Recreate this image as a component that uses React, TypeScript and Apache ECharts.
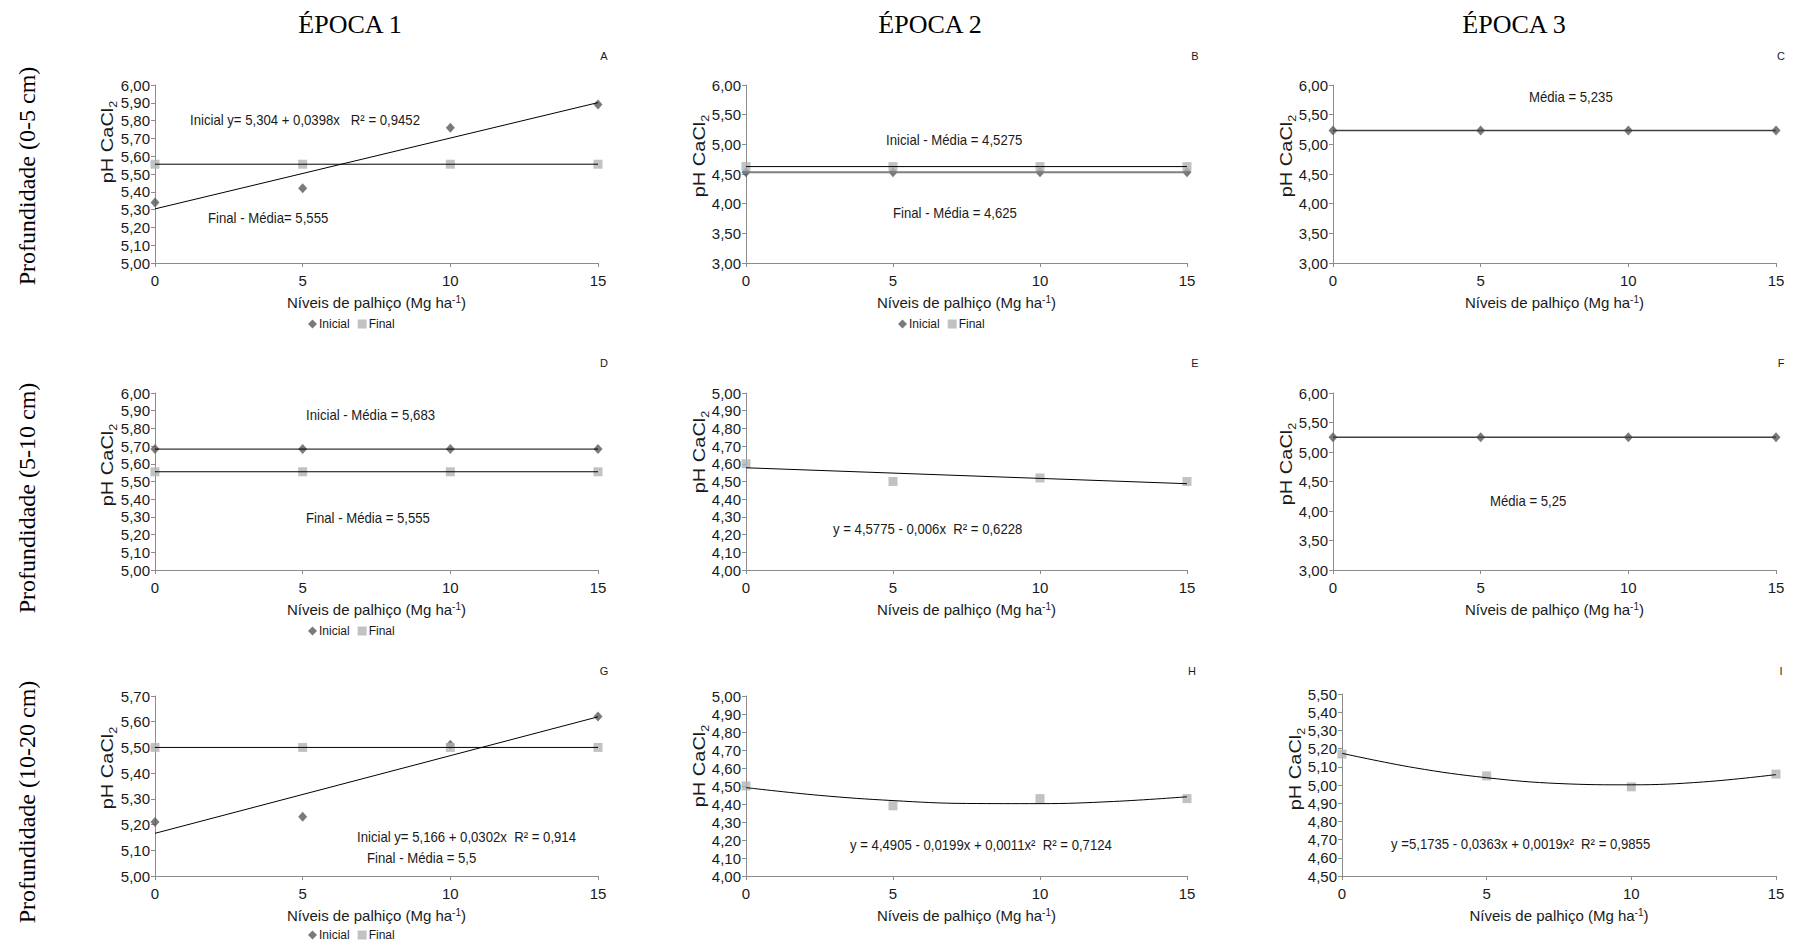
import React, { useEffect, useRef } from "react";
import * as echarts from "echarts";

// ---------- DATA ----------
const xLevels = [0, 5, 10, 15];
const lineX = [0, 15];
const curveX = [0, 2.5, 5, 7.5, 10, 12.5, 15];

// A (Época 1, 0-5 cm)
const aInicial = [5.34, 5.42, 5.76, 5.89];
const aFinal = [5.555, 5.555, 5.555, 5.555];
const aTrendInicial = [5.304, 5.901];
const aMeanFinal = [5.555, 5.555];
// B (Época 2, 0-5 cm)
const bInicial = [4.5275, 4.5275, 4.5275, 4.5275];
const bFinal = [4.625, 4.625, 4.625, 4.625];
const bMeanInicial = [4.5275, 4.5275];
const bMeanFinal = [4.625, 4.625];
// C (Época 3, 0-5 cm)
const cInicial = [5.235, 5.235, 5.235, 5.235];
const cMean = [5.235, 5.235];
// D (Época 1, 5-10 cm)
const dInicial = [5.683, 5.683, 5.683, 5.683];
const dFinal = [5.555, 5.555, 5.555, 5.555];
const dMeanInicial = [5.683, 5.683];
const dMeanFinal = [5.555, 5.555];
// E (Época 2, 5-10 cm)
const eFinal = [4.6, 4.5, 4.52, 4.5];
const eTrend = [4.5775, 4.4875];
// F (Época 3, 5-10 cm)
const fInicial = [5.25, 5.25, 5.25, 5.25];
const fMean = [5.25, 5.25];
// G (Época 1, 10-20 cm)
const gInicial = [5.21, 5.23, 5.51, 5.62];
const gFinal = [5.5, 5.5, 5.5, 5.5];
const gTrendInicial = [5.166, 5.619];
const gMeanFinal = [5.5, 5.5];
// H (Época 2, 10-20 cm)
const hFinal = [4.5, 4.39, 4.43, 4.43];
const hTrend = [4.491, 4.448, 4.419, 4.403, 4.402, 4.414, 4.44];
// I (Época 3, 10-20 cm)
const iFinal = [5.17, 5.05, 4.99, 5.06];
const iTrend = [5.174, 5.095, 5.04, 5.008, 5.001, 5.017, 5.057];

// y-axis ranges [min, max, interval]
const yRanges = [
  [5, 6, 0.1], [3, 6, 0.5], [3, 6, 0.5],
  [5, 6, 0.1], [4, 5, 0.1], [3, 6, 0.5],
  [5, 5.7, 0.1], [4, 5, 0.1], [4.5, 5.5, 0.1],
];
const xTicks = [0, 15, 5];

const colTitles = ["ÉPOCA 1", "ÉPOCA 2", "ÉPOCA 3"];
const rowTitles = ["Profundidade (0-5 cm)", "Profundidade (5-10 cm)", "Profundidade (10-20 cm)"];
const panelLetters = ["A", "B", "C", "D", "E", "F", "G", "H", "I"];

// ---------- LAYOUT ----------
const grids = [
  { left: 155, top: 85, width: 443, height: 178 },
  { left: 746, top: 85, width: 441, height: 178 },
  { left: 1333, top: 85, width: 443, height: 178 },
  { left: 155, top: 393, width: 443, height: 177 },
  { left: 746, top: 393, width: 441, height: 177 },
  { left: 1333, top: 393, width: 443, height: 177 },
  { left: 155, top: 696, width: 443, height: 180 },
  { left: 746, top: 696, width: 441, height: 180 },
  { left: 1342, top: 694, width: 434, height: 182 },
];
const yNamePos = [
  [108, 142], [700, 156], [1287, 156],
  [108, 465], [700, 452], [1287, 464],
  [108, 768], [700, 766], [1296, 769],
];

const SANS = '"Liberation Sans", Arial, sans-serif';
const SERIF = '"Liberation Serif", "Times New Roman", serif';
const DIAMOND = "#595959";
const SQUARE = "#b3b3b3";

const pts = (xs: number[], ys: number[]) => xs.map((x, i) => [x, ys[i]]);

function markers(name: string, g: number, ys: number[]) {
  const ini = name === "Inicial";
  return {
    type: "scatter", name, xAxisIndex: g, yAxisIndex: g,
    data: pts(xLevels, ys),
    symbol: ini ? "diamond" : "rect",
    symbolSize: ini ? [9, 10] : [9, 9],
    itemStyle: { color: ini ? DIAMOND : SQUARE },
    z: ini ? 2 : 3, silent: true,
  };
}
function trend(id: string, g: number, xs: number[], ys: number[], color = "#000", width = 1, smooth = false) {
  return {
    type: "line", name: id, xAxisIndex: g, yAxisIndex: g,
    data: pts(xs, ys), showSymbol: false, symbol: "none", smooth: smooth ? 0.4 : false,
    lineStyle: { color, width }, z: 4, silent: true,
  };
}

function txt(text: string, x: number, y: number) {
  return {
    type: "text", x, y, scaleX: 0.94, silent: true,
    style: { text, font: `14px ${SANS}`, fill: "#1a1a1a", align: "left", verticalAlign: "middle" },
  };
}

function buildOption() {
  const fmt = (v: number) => v.toFixed(2).replace(".", ",");
  const xAxis = grids.map((_, i) => ({
    type: "value", gridIndex: i, min: xTicks[0], max: xTicks[1], interval: xTicks[2],
    axisLine: { show: true, lineStyle: { color: "#8c8c8c", width: 1 } },
    axisTick: { show: true, length: 4, lineStyle: { color: "#8c8c8c" } },
    splitLine: { show: false },
    axisLabel: { color: "#1a1a1a", fontSize: 15, fontFamily: SANS, margin: 10 },
    name: "Níveis de palhiço (Mg ha{sup|-1})",
    nameLocation: "middle", nameGap: 31,
    nameTextStyle: {
      color: "#1a1a1a", fontSize: 15, fontFamily: SANS,
      rich: { sup: { fontSize: 10, fontFamily: SANS, color: "#1a1a1a", verticalAlign: "top", lineHeight: 17 } },
    },
  }));
  const yAxis = grids.map((_, i) => ({
    type: "value", gridIndex: i, min: yRanges[i][0], max: yRanges[i][1], interval: yRanges[i][2],
    axisLine: { show: true, lineStyle: { color: "#8c8c8c", width: 1 } },
    axisTick: { show: true, length: 4, lineStyle: { color: "#8c8c8c" } },
    splitLine: { show: false },
    axisLabel: { color: "#1a1a1a", fontSize: 15, fontFamily: SANS, margin: 5, formatter: fmt },
  }));

  const series: any[] = [
    // A
    markers("Inicial", 0, aInicial), markers("Final", 0, aFinal),
    trend("tA1", 0, lineX, aTrendInicial), trend("tA2", 0, lineX, aMeanFinal),
    // B
    markers("Inicial", 1, bInicial), markers("Final", 1, bFinal),
    trend("tB1", 1, lineX, bMeanInicial, "#7f7f7f", 2), trend("tB2", 1, lineX, bMeanFinal),
    // C
    markers("Inicial", 2, cInicial), trend("tC1", 2, lineX, cMean, "#404040", 1.5),
    // D
    markers("Inicial", 3, dInicial), markers("Final", 3, dFinal),
    trend("tD1", 3, lineX, dMeanInicial), trend("tD2", 3, lineX, dMeanFinal),
    // E
    markers("Final", 4, eFinal), trend("tE1", 4, lineX, eTrend),
    // F
    markers("Inicial", 5, fInicial), trend("tF1", 5, lineX, fMean, "#404040", 1.5),
    // G
    markers("Inicial", 6, gInicial), markers("Final", 6, gFinal),
    trend("tG1", 6, lineX, gTrendInicial), trend("tG2", 6, lineX, gMeanFinal),
    // H
    markers("Final", 7, hFinal), trend("tH1", 7, curveX, hTrend, "#000", 1, true),
    // I
    markers("Final", 8, iFinal), trend("tI1", 8, curveX, iTrend, "#000", 1, true),
  ];

  const legendBase = (left: number, top: number) => ({
    left, top, orient: "horizontal", itemWidth: 9, itemHeight: 9, itemGap: 8,
    selectedMode: false, padding: 2,
    textStyle: { fontSize: 12, fontFamily: SANS, color: "#1a1a1a", padding: [0, 0, 0, -3] },
    data: [{ name: "Inicial", icon: "diamond" }, { name: "Final", icon: "rect" }],
  });
  const legend = [legendBase(306, 316), legendBase(896, 316), legendBase(306, 623), legendBase(306, 927)];

  const colX = [350, 930, 1514];
  const rowY = [176, 498, 802];
  const letterPos = [
    [604, 56], [1195, 56], [1781, 56],
    [604, 363], [1195, 363], [1781, 363],
    [604, 671], [1192, 671], [1781, 671],
  ];

  const graphic: any[] = [
    ...colTitles.map((t, i) => ({
      type: "text", x: colX[i], y: 24, silent: true,
      style: { text: t, font: `26px ${SERIF}`, fill: "#000", align: "center", verticalAlign: "middle" },
    })),
    ...rowTitles.map((t, i) => ({
      type: "text", x: 27, y: rowY[i], rotation: Math.PI / 2, silent: true,
      style: { text: t, font: `24px ${SERIF}`, fill: "#000", align: "center", verticalAlign: "middle" },
    })),
    ...panelLetters.map((t, i) => ({
      type: "text", x: letterPos[i][0], y: letterPos[i][1], silent: true,
      style: { text: t, font: `11px ${SANS}`, fill: "#1a1a1a", align: "center", verticalAlign: "middle" },
    })),
    ...yNamePos.map((p) => ({
      type: "text", x: p[0], y: p[1], rotation: Math.PI / 2, scaleX: 1.25, silent: true,
      style: {
        text: "pH CaCl{sub|2}", fontSize: 16, fontFamily: SANS, fill: "#1a1a1a",
        align: "center", verticalAlign: "middle", lineHeight: 20,
        rich: { sub: { fontSize: 10, fontFamily: SANS, fill: "#1a1a1a", verticalAlign: "bottom", lineHeight: 20 } },
      },
    })),
    txt("Inicial y= 5,304 + 0,0398x   R² = 0,9452", 190, 120),
    txt("Final - Média= 5,555", 208, 218),
    txt("Inicial - Média = 4,5275", 886, 140),
    txt("Final - Média = 4,625", 893, 213),
    txt("Média = 5,235", 1529, 97),
    txt("Inicial - Média = 5,683", 306, 415),
    txt("Final - Média = 5,555", 306, 518),
    txt("y = 4,5775 - 0,006x  R² = 0,6228", 833, 529),
    txt("Média = 5,25", 1490, 501),
    txt("Inicial y= 5,166 + 0,0302x  R² = 0,914", 357, 837),
    txt("Final - Média = 5,5", 367, 858),
    txt("y = 4,4905 - 0,0199x + 0,0011x²  R² = 0,7124", 850, 845),
    txt("y =5,1735 - 0,0363x + 0,0019x²  R² = 0,9855", 1391, 844),
  ];

  return {
    animation: false,
    backgroundColor: "#ffffff",
    grid: grids.map((g) => ({ ...g, containLabel: false })),
    xAxis, yAxis, series, legend, graphic,
  };
}

export default function App() {
  const ref = useRef<HTMLDivElement>(null);
  useEffect(() => {
    if (!ref.current) return;
    const chart = echarts.init(ref.current, undefined, { renderer: "svg" });
    chart.setOption(buildOption() as any);
    return () => chart.dispose();
  }, []);
  return (
    <div
      ref={ref}
      style={{ position: "fixed", left: 0, top: 0, width: 1796, height: 945, background: "#fff" }}
    />
  );
}
